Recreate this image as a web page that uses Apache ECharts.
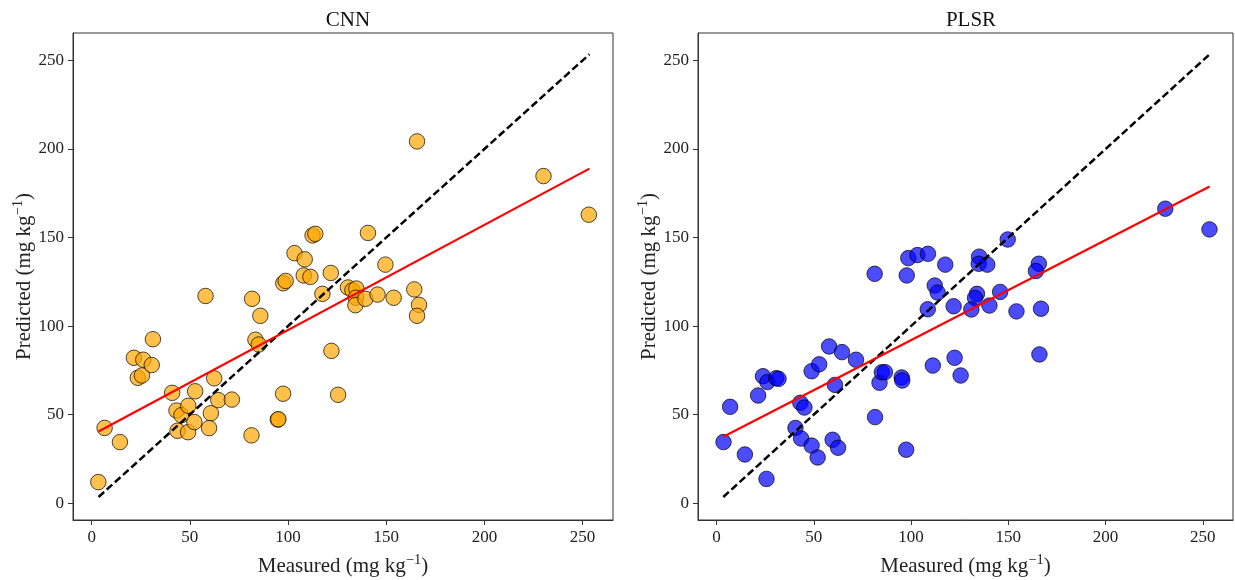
<!DOCTYPE html>
<html>
<head>
<meta charset="utf-8">
<script src="https://cdn.jsdelivr.net/npm/echarts@6/dist/echarts.min.js"></script>
<style>
  html, body { margin: 0; padding: 0; background: #fff; }
  #main { width: 1235px; height: 580px; }
</style>
</head>
<body>
<div id="main"></div>
<script>
// values
const cnnMeasured = [3.4, 6.6, 14.4, 21.5, 23.5, 25.6, 26.3, 30.6, 31.2, 41, 43.2, 45.7, 43.7, 49.2, 49.1, 52.7, 52.3, 58, 62.4, 60.7,
  59.8, 64.5, 71.4, 81.4, 81.7, 85.9, 83.4, 85.1, 94.8, 95.1, 97.5, 97.6, 98.8, 103.3, 108.5, 108, 111.4, 112.5, 113.9, 117.5,
  121.8, 122.1, 125.5, 130.5, 132.8, 134.8, 134.6, 134.3, 139.4, 140.7, 145.6, 149.6, 153.8, 164.3, 166.7, 165.7, 165.7, 230.1, 253.2];
const cnnPredicted = [11.9, 42.5, 34.5, 82.1, 70.8, 72.1, 81, 78, 92.6, 62.3, 52.3, 49.7, 40.9, 55, 40.1, 63.2, 45.8, 117, 70.5, 50.8,
  42.4, 58.2, 58.5, 38.3, 115.4, 105.8, 92.3, 89.6, 47.2, 47.4, 61.8, 124.2, 125.5, 141.2, 137.7, 128.6, 127.8, 151.2, 152.1, 118.2,
  130, 86, 61.2, 121.8, 120.2, 121.2, 116, 111.8, 115.4, 152.6, 117.8, 134.7, 116, 120.7, 112, 105.8, 204.3, 184.7, 162.9];

const plsrMeasured = [3.6, 7, 14.6, 25.7, 21.4, 23.9, 26.2, 30.7, 31.9, 40.6, 43.5, 43.1, 45.2, 48.9, 52, 48.9, 52.8, 57.9, 60.9, 59.7,
  62.5, 64.5, 71.7, 81.5, 83.8, 85, 86.6, 95.2, 95.5, 97.5, 108.6, 111.2, 112.2, 113.7, 81.3, 97.8, 98.6, 103.3, 108.7, 117.6,
  149.7, 135, 134.8, 139.2, 165.7, 164.2, 230.7, 253.4, 133.9, 132.9, 145.8, 121.9, 131, 140.3, 154.2, 166.8, 166, 122.4, 125.5];
const plsrPredicted = [34.5, 54.4, 27.5, 13.7, 60.8, 71.7, 68.4, 70.6, 70.2, 42.5, 36.5, 56.7, 54, 32.5, 25.8, 74.5, 78.4, 88.5, 66.8, 35.8,
  31.3, 85.3, 81, 48.6, 68, 73.9, 74, 71, 69.3, 30.2, 109.5, 77.7, 122.9, 118.9, 129.5, 128.6, 138.4, 140.1, 140.8, 134.7,
  148.9, 139.2, 135.2, 134.7, 135.2, 131.1, 166.3, 154.6, 118.2, 115.9, 119.3, 111.2, 109.4, 111.6, 108.3, 109.8, 84, 82.1, 72.1];

// 1:1 line and fitted regression lines (end points)
const oneToOne = [[3.5, 3.5], [253.5, 253.5]];
const cnnFit = [[3.5, 40.5], [253.5, 188.9]];
const plsrFit = [[3.5, 37.5], [253.5, 178.8]];

const tickValues = [0, 50, 100, 150, 200, 250];
const axisMin = -9.5;
const axisMax = 265.5;
const panelTitles = ['CNN', 'PLSR'];

const zip = (xs, ys) => xs.map((x, i) => [x, ys[i]]);

const chartDom = document.getElementById('main');
const myChart = echarts.init(chartDom);

const font = 'Liberation Serif';
const frame = '#333';

const nameRich = {
  b: { fontFamily: font, fontSize: 21, color: '#222', lineHeight: 24, verticalAlign: 'bottom' },
  sup: { fontFamily: font, fontSize: 14.5, color: '#222', lineHeight: 14, verticalAlign: 'top' },
};

function makeAxis(idx, label) {
  return {
    type: 'value', gridIndex: idx, min: axisMin, max: axisMax,
    name: '{b|' + label + ' (mg kg}{sup|−1}{b|)}',
    nameLocation: 'middle',
    nameTextStyle: { rich: nameRich },
    axisLine: { show: true, onZero: false, lineStyle: { color: frame, width: 1 } },
    axisTick: { show: true, inside: false, length: 5, lineStyle: { color: frame }, customValues: tickValues },
    axisLabel: { fontFamily: font, fontSize: 17, color: '#222', margin: 9, customValues: tickValues },
    splitLine: { show: false },
  };
}

function scatterSeries(idx, data, fill) {
  return {
    type: 'scatter', xAxisIndex: idx, yAxisIndex: idx,
    data: data, symbolSize: 15.5,
    itemStyle: { color: fill, opacity: 1, borderColor: 'rgba(0,0,0,0.7)', borderWidth: 1 },
    silent: true,
  };
}

function lineSeries(idx, data, color, dashed) {
  return {
    type: 'line', xAxisIndex: idx, yAxisIndex: idx,
    data: data, showSymbol: false, symbol: 'none', silent: true,
    lineStyle: dashed
      ? { color: color, width: 2.5, type: [7.5, 3.5] }
      : { color: color, width: 2.2 },
  };
}

const xAxes = [0, 1].map((i) => Object.assign(makeAxis(i, 'Measured'), { nameGap: 33 }));
const yAxes = [0, 1].map((i) => Object.assign(makeAxis(i, 'Predicted'), { nameGap: 38 }));

const gridBase = {
  top: 33, height: 487, show: true, borderColor: frame, borderWidth: 1,
  backgroundColor: 'transparent', containLabel: false, outerBoundsMode: 'none',
};

const option = {
  animation: false,
  backgroundColor: '#fff',
  textStyle: { fontFamily: font },
  title: [
    { text: panelTitles[0], left: 343, top: 5, textAlign: 'center',
      textStyle: { fontFamily: font, fontSize: 21, fontWeight: 'normal', color: '#111' } },
    { text: panelTitles[1], left: 966, top: 5, textAlign: 'center',
      textStyle: { fontFamily: font, fontSize: 21, fontWeight: 'normal', color: '#111' } },
  ],
  grid: [
    Object.assign({ left: 73, width: 540 }, gridBase),
    Object.assign({ left: 698, width: 535 }, gridBase),
  ],
  xAxis: xAxes,
  yAxis: yAxes,
  series: [
    scatterSeries(0, zip(cnnMeasured, cnnPredicted), 'rgba(255,165,0,0.7)'),
    lineSeries(0, oneToOne, '#000', true),
    lineSeries(0, cnnFit, '#ff0000', false),
    scatterSeries(1, zip(plsrMeasured, plsrPredicted), 'rgba(0,0,255,0.7)'),
    lineSeries(1, oneToOne, '#000', true),
    lineSeries(1, plsrFit, '#ff0000', false),
  ],
};

myChart.setOption(option);
</script>
</body>
</html>
